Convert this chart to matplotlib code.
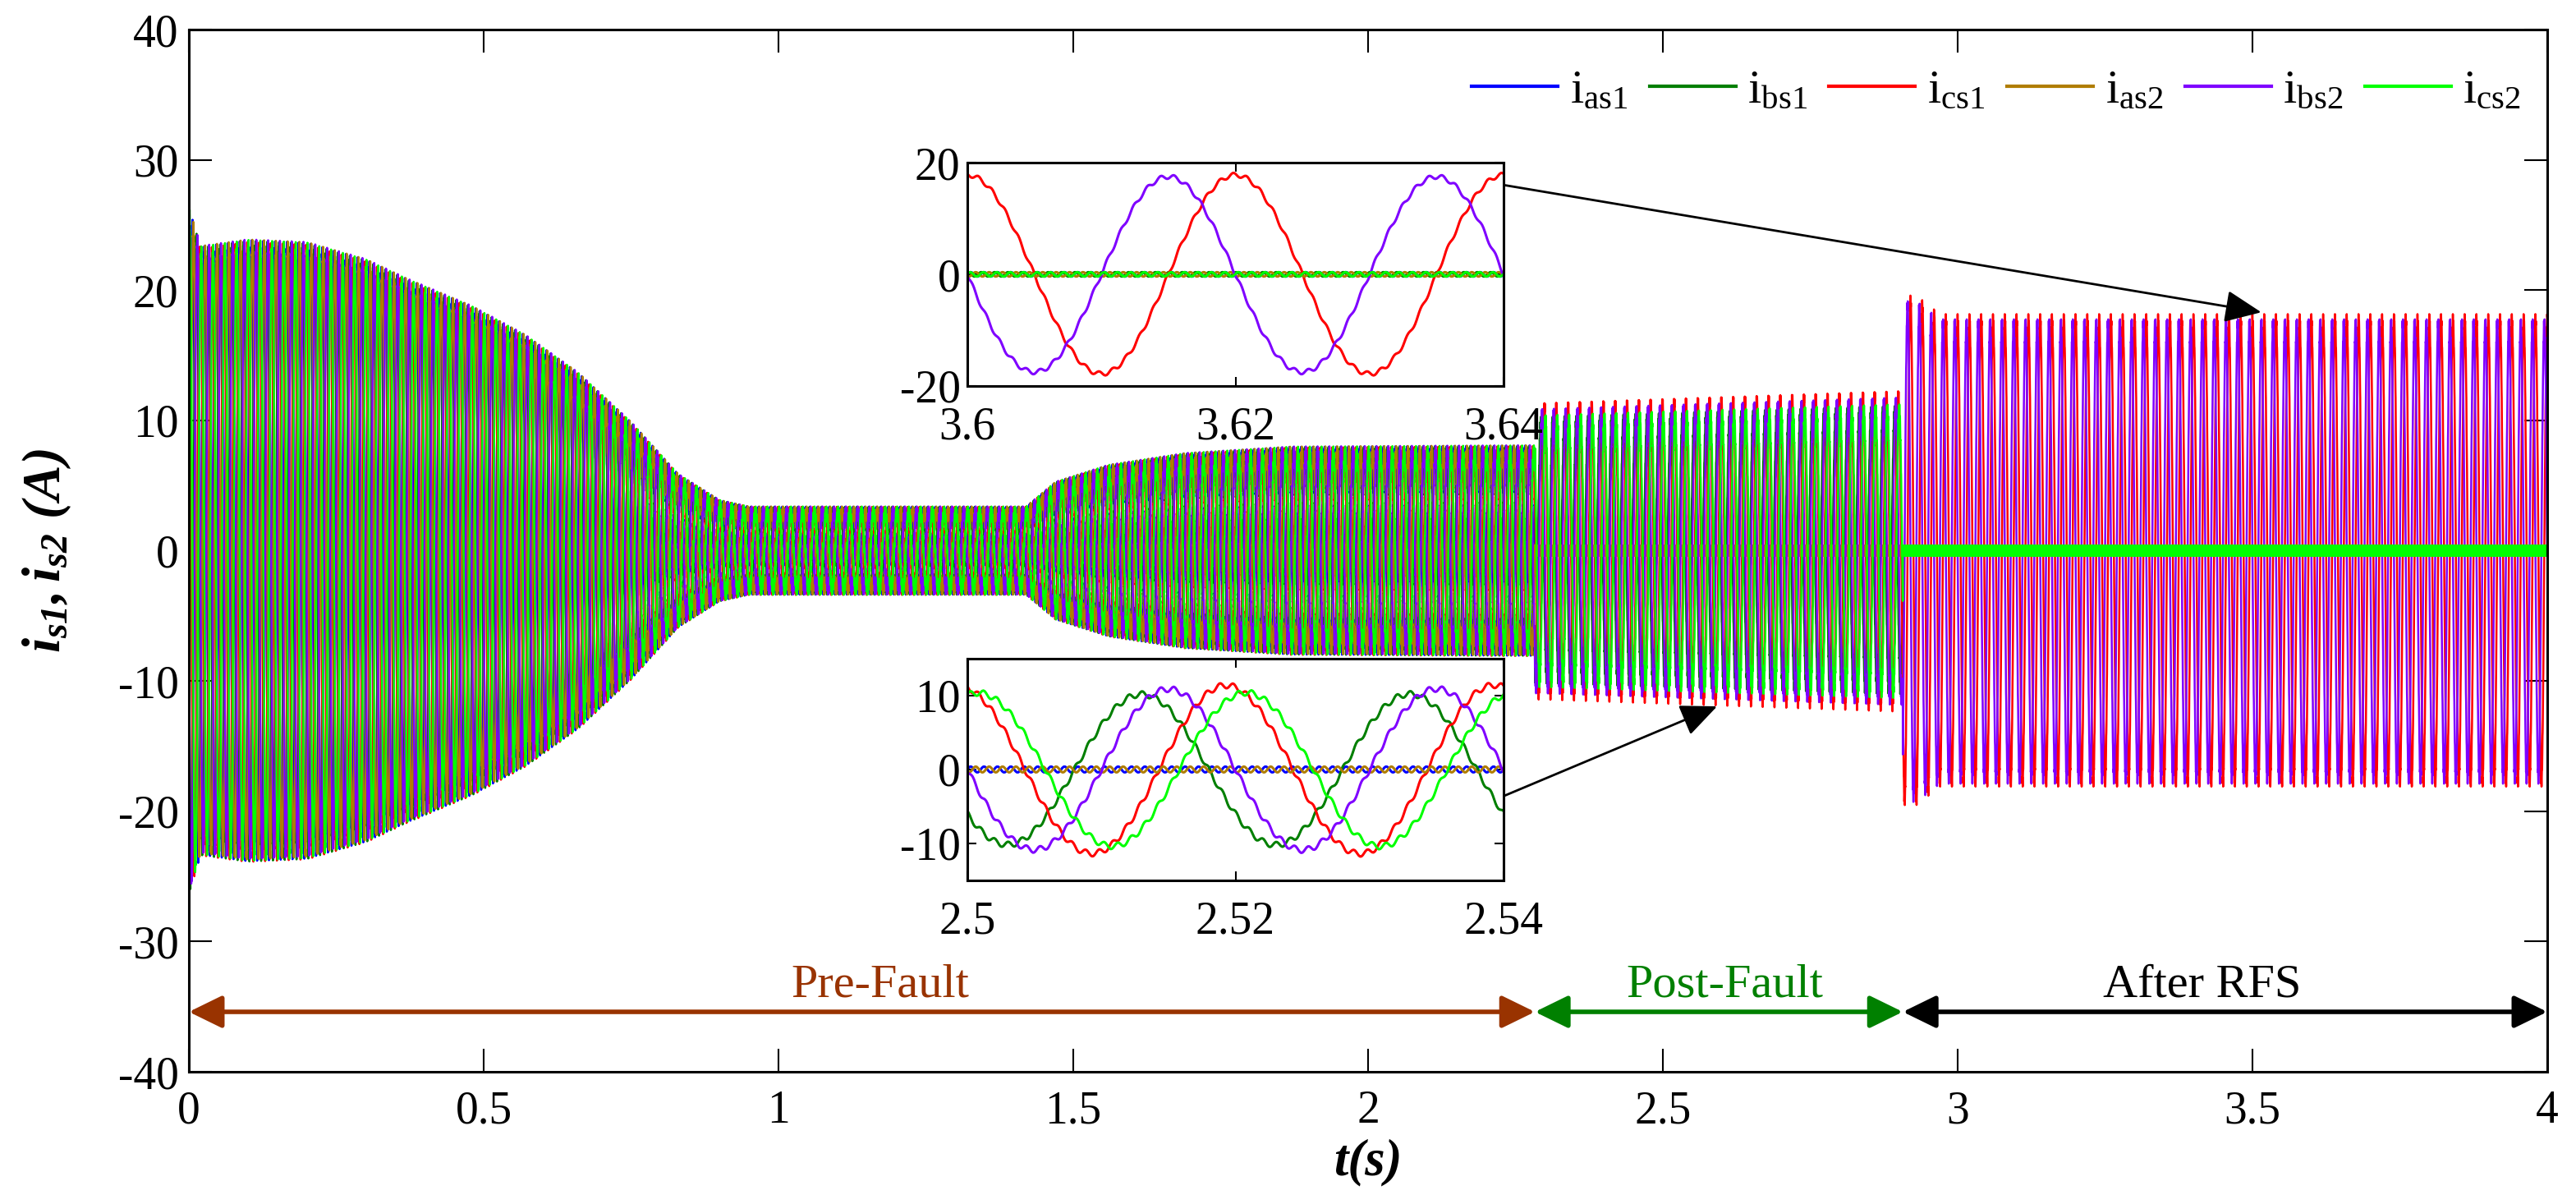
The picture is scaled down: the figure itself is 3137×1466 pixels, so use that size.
import numpy as np
import matplotlib.pyplot as plt

plt.rcParams['font.family'] = ['Liberation Serif', 'DejaVu Serif']
plt.rcParams['mathtext.fontset'] = 'custom'
plt.rcParams['mathtext.rm'] = 'Liberation Serif:italic:bold'
plt.rcParams['mathtext.it'] = 'Liberation Serif:italic:bold'
plt.rcParams['mathtext.bf'] = 'Liberation Serif:bold'
plt.rcParams['mathtext.sf'] = 'Liberation Serif'
plt.rcParams['axes.unicode_minus'] = False

# event instants (s) and line frequency
t_fault = 2.283
t_rfs = 2.907
f_line = 50.0
ripple_amp = 0.4      # switching ripple seen on the traces (A)
ripple_hz = 1000.0

names = ['as1', 'bs1', 'cs1', 'as2', 'bs2', 'cs2']
colors = ['#0000FF', '#007F00', '#FF0000', '#B07D00', '#7F00FF', '#00FF00']

# pre-fault envelope (A)
pre_env_t = [0.0, 0.02, 0.1, 0.2, 0.3, 0.37, 0.48, 0.57, 0.66, 0.75, 0.83, 0.9,
             0.95, 1.0, 1.42, 1.47, 1.56, 1.69, 1.87, 2.283]
pre_env_a = [26.0, 23.0, 23.5, 23.3, 22.0, 20.5, 18.4, 16.2, 13.3, 9.5, 5.5, 3.5,
             3.0, 3.0, 3.0, 4.9, 6.2, 7.1, 7.6, 7.7]
pre_peak_ms = [6.0, 12.7, 19.3, 7.7, 14.4, 21.0]

# post-fault: phase a of both sets open
post_amp = [0.0, 10.3, 11.5, 0.0, 11.0, 10.5]
post_peak_ms = [0.0, 13.0, 19.3, 0.0, 15.0, 0.8]
post_env_t = [2.283, 2.30, 2.90]
post_env_a = [0.96, 0.96, 1.04]

# after RFS: only cs1 and bs2 carry current
rfs_amp = [0.0, 0.0, 17.8, 0.0, 17.5, 0.0]
rfs_peak_ms = [0.0, 0.0, 0.0, 0.0, 15.0, 0.0]
rfs_env_t = [2.907, 2.93, 2.97, 4.0]
rfs_env_a = [1.08, 1.08, 1.0, 1.0]

t = np.arange(0, 4.0001, 1e-4)
w = 2 * np.pi * f_line
currents = []
for k in range(6):
    pre = np.interp(t, pre_env_t, pre_env_a) * np.cos(w * (t - pre_peak_ms[k] / 1000))
    post = post_amp[k] * np.interp(t, post_env_t, post_env_a) * np.cos(w * (t - post_peak_ms[k] / 1000))
    rfs = rfs_amp[k] * np.interp(t, rfs_env_t, rfs_env_a) * np.cos(w * (t - rfs_peak_ms[k] / 1000))
    y = np.where(t < t_fault, pre, np.where(t < t_rfs, post, rfs))
    y = y + ripple_amp * np.sin(2 * np.pi * ripple_hz * t + 1.3 * k)
    currents.append(y)

fig = plt.figure(figsize=(31.37, 14.66), dpi=100)
ax = fig.add_axes([0.07332, 0.10982, 0.91552, 0.86562])

for k in range(6):
    ax.plot(t, currents[k], color=colors[k], lw=1.8, label=r'$\mathsf{i_{' + names[k] + '}}$')

ax.set_xlim(0, 4)
ax.set_ylim(-40, 40)
ax.set_xticks(np.arange(0, 4.01, 0.5))
ax.set_xticklabels(['0', '0.5', '1', '1.5', '2', '2.5', '3', '3.5', '4'])
ax.set_yticks(np.arange(-40, 41, 10))
ax.tick_params(direction='in', length=20, width=1.5, top=True, right=True, labelsize=40)
ax.tick_params(axis='x', pad=16)
ax.tick_params(axis='y', pad=9)
for s in ax.spines.values():
    s.set_linewidth(2.2)

ax.set_ylabel(r'$i_{s1},i_{s2}\ (A)$', fontsize=47)
ax.yaxis.set_label_coords(-0.049, 0.5)
ax.set_xlabel('t(s)', fontsize=45, fontweight='bold', style='italic', va='top')
ax.xaxis.set_label_coords(0.5, -0.064)

leg = ax.legend(ncol=6, loc='upper right', bbox_to_anchor=(0.997, 0.98), frameon=False,
                fontsize=42, handlelength=1.8, handletextpad=0.25, columnspacing=0.45,
                borderaxespad=0)
for h in leg.get_lines():
    h.set_linewidth(3)

# region arrows
y_arr = -35.4
regions = [(0.0, t_fault, '#993300', 'Pre-Fault', 1.173),
           (t_fault, t_rfs, '#008000', 'Post-Fault', 2.605),
           (t_rfs, 4.0, 'black', 'After RFS', 3.415)]
for x0, x1, c, lab, xt in regions:
    ax.annotate('', xy=(x0, y_arr), xytext=(x1, y_arr),
                arrowprops=dict(arrowstyle='<|-|>,head_length=0.45,head_width=0.22',
                                color=c, lw=4, mutation_scale=55, shrinkA=0, shrinkB=0))
    ax.text(xt, -34.2, lab, color=c, fontsize=42, ha='center', va='baseline')

# zoom insets
ins1 = fig.add_axes([0.3755, 0.6794, 0.2082, 0.1855])
ins2 = fig.add_axes([0.3755, 0.2688, 0.2082, 0.1842])
for ins in (ins1, ins2):
    for k in range(6):
        ins.plot(t, currents[k], color=colors[k], lw=2.2)
    ins.tick_params(direction='in', length=8, width=1.5, top=True, right=True, labelsize=40)
    ins.tick_params(axis='x', pad=18)
    ins.tick_params(axis='y', pad=6)
    for s in ins.spines.values():
        s.set_linewidth(2.2)

ins1.set_xlim(3.6, 3.64)
ins1.set_ylim(-20, 20)
ins1.set_xticks([3.6, 3.62, 3.64])
ins1.set_xticklabels(['3.6', '3.62', '3.64'])
ins1.set_yticks([-20, 0, 20])

ins2.set_xlim(2.5, 2.54)
ins2.set_ylim(-15, 15)
ins2.set_xticks([2.5, 2.52, 2.54])
ins2.set_xticklabels(['2.5', '2.52', '2.54'])
ins2.set_yticks([-10, 0, 10])

ax.annotate('', xy=(3.515, 18.3), xytext=(3.64, 16.0), textcoords=ins1.transData,
            arrowprops=dict(arrowstyle='-|>,head_length=0.5,head_width=0.22', color='black',
                            lw=2, mutation_scale=55, shrinkA=0, shrinkB=0))
ax.annotate('', xy=(2.592, -11.95), xytext=(2.54, -3.6), textcoords=ins2.transData,
            arrowprops=dict(arrowstyle='-|>,head_length=0.5,head_width=0.22', color='black',
                            lw=2, mutation_scale=55, shrinkA=0, shrinkB=0))

fig.savefig('out.png', dpi=100)
